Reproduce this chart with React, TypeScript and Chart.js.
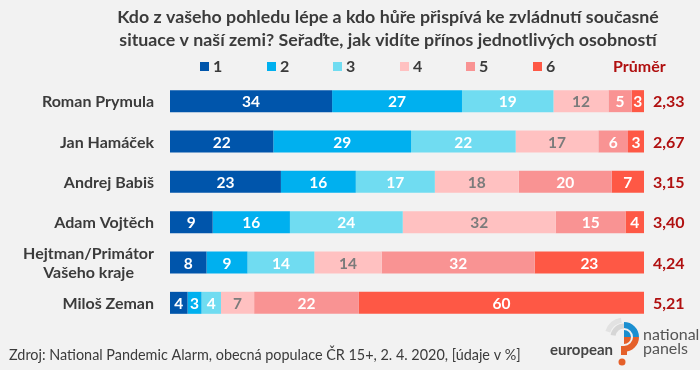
import React, { useEffect, useRef } from "react";
import Chart from "chart.js/auto";

const titleLines = [
  "Kdo z vašeho pohledu lépe a kdo hůře přispívá ke zvládnutí současné",
  "situace v naší zemi? Seřaďte, jak vidíte přínos jednotlivých osobností",
];
const categories: string[][] = [
  ["Roman Prymula"],
  ["Jan Hamáček"],
  ["Andrej Babiš"],
  ["Adam Vojtěch"],
  ["Hejtman/Primátor", "Vašeho kraje"],
  ["Miloš Zeman"],
];
const seriesNames = ["1", "2", "3", "4", "5", "6"];
const s1 = [34.2, 21.8, 23.4, 9.0, 7.7, 3.7];
const s2 = [27.4, 29.05, 15.8, 16.3, 8.65, 2.95];
const s3 = [19.3, 22.08, 16.67, 23.8, 14.1, 4.1];
const s4 = [11.6, 17.44, 17.72, 32.3, 14.2, 7.0];
const s5 = [4.9, 6.26, 19.6, 14.7, 32.3, 22.1];
const s6 = [2.6, 3.38, 6.81, 3.9, 23.05, 60.15];
const averages = [2.33, 2.67, 3.15, 3.4, 4.24, 5.21];
const averageLabel = "Průměr";
const footerText = "Zdroj: National Pandemic Alarm, obecná populace ČR 15+, 2. 4. 2020, [údaje v %]";

const colors = ["#0055ab", "#00b0ef", "#70dcf1", "#ffc1c1", "#f99393", "#fe5845"];
const labelColors = ["#ffffff", "#ffffff", "#ffffff", "#7b7b7b", "#ffffff", "#ffffff"];
const FONT = "Lato, 'Open Sans', sans-serif";
const TEXT = "#3b3b3b";
const RED = "#b01010";

export default function App() {
  const ref = useRef<HTMLCanvasElement | null>(null);
  useEffect(() => {
    document.body.style.margin = "0";
    const canvas = ref.current!;
    const decor = {
      id: "decor",
      beforeDraw(chart: any) {
        const ctx = chart.ctx;
        ctx.save();
        ctx.fillStyle = "#f2f2f2";
        ctx.fillRect(0, 0, chart.width, chart.height);
        ctx.restore();
      },
      afterDatasetsDraw(chart: any) {
        const ctx = chart.ctx;
        ctx.save();
        ctx.font = `bold 15.5px ${FONT}`;
        ctx.textAlign = "center";
        ctx.textBaseline = "middle";
        chart.data.datasets.forEach((ds: any, di: number) => {
          const meta = chart.getDatasetMeta(di);
          meta.data.forEach((el: any, i: number) => {
            const v = ds.data[i];
            const cx = (el.x + el.base) / 2;
            ctx.fillStyle = labelColors[di];
            ctx.fillText(String(Math.round(v)), cx, el.y + 1);
          });
        });
        ctx.restore();
      },
      afterDraw(chart: any) {
        const ctx = chart.ctx;
        const yScale = chart.scales.y;
        const area = chart.chartArea;
        ctx.save();
        // title
        ctx.fillStyle = TEXT;
        ctx.font = `bold 17.8px ${FONT}`;
        ctx.textAlign = "center";
        ctx.textBaseline = "middle";
        titleLines.forEach((t, i) => ctx.fillText(t, 388, 17 + i * 23));
        // legend
        ctx.font = `bold 16px ${FONT}`;
        const legendX = [200, 267, 333, 400, 466, 533];
        ctx.textAlign = "left";
        seriesNames.forEach((n, i) => {
          ctx.fillStyle = colors[i];
          ctx.fillRect(legendX[i], 62, 9, 9);
          ctx.fillStyle = TEXT;
          ctx.fillText(n, legendX[i] + 13, 67);
        });
        ctx.fillStyle = RED;
        ctx.fillText(averageLabel, 613, 67);
        // y labels
        ctx.fillStyle = TEXT;
        ctx.font = `bold 16px ${FONT}`;
        categories.forEach((lines, i) => {
          const y = yScale.getPixelForValue(i);
          const widths = lines.map((l) => ctx.measureText(l).width);
          const maxW = Math.max(...widths);
          const right = area.left - 16;
          ctx.textAlign = "center";
          lines.forEach((l, j) => {
            const ly = y + (j - (lines.length - 1) / 2) * 19 + 1;
            ctx.fillText(l, right - maxW / 2, ly);
          });
        });
        // averages
        ctx.fillStyle = RED;
        ctx.textAlign = "left";
        averages.forEach((a, i) => {
          const y = yScale.getPixelForValue(i);
          ctx.fillText(a.toFixed(2).replace(".", ","), area.right + 9, y + 1);
        });
        // footer
        ctx.fillStyle = TEXT;
        ctx.font = `14.4px ${FONT}`;
        ctx.textAlign = "left";
        ctx.fillText(footerText, 9, 355);
        // logo
        ctx.font = `bold 15px ${FONT}`;
        ctx.fillStyle = "#454545";
        ctx.fillText("european", 550, 350);
        ctx.font = `16px ${FONT}`;
        ctx.fillStyle = "#555555";
        ctx.fillText("national", 643, 335);
        ctx.fillText("panels", 643, 349);
        const cx = 624, cy = 337;
        ctx.lineWidth = 5;
        ctx.strokeStyle = "#e2e2e2";
        ctx.beginPath();
        ctx.arc(cx, cy, 17, Math.PI * 1.1, Math.PI * 1.45);
        ctx.stroke();
        ctx.strokeStyle = "#d6d6d6";
        ctx.beginPath();
        ctx.arc(cx, cy, 11, Math.PI * 1.05, Math.PI * 1.5);
        ctx.stroke();
        ctx.lineWidth = 6;
        ctx.strokeStyle = "#1b8fd0";
        ctx.beginPath();
        ctx.arc(cx, cy, 12, Math.PI * 1.5, Math.PI * 2);
        ctx.stroke();
        ctx.strokeStyle = "#e5602a";
        ctx.beginPath();
        ctx.arc(cx, cy, 12, 0, Math.PI * 0.5);
        ctx.stroke();
        ctx.fillStyle = "#1b8fd0";
        ctx.beginPath();
        ctx.moveTo(cx, cy);
        ctx.arc(cx, cy, 7, Math.PI * 1.5, Math.PI * 2);
        ctx.closePath();
        ctx.fill();
        ctx.fillStyle = "#e5602a";
        ctx.beginPath();
        ctx.moveTo(cx, cy);
        ctx.arc(cx, cy, 7, 0, Math.PI * 0.5);
        ctx.closePath();
        ctx.fill();
        ctx.fillRect(cx - 3, cy + 9, 6, 9);
        ctx.beginPath();
        ctx.arc(cx - 2, cy + 25, 3.5, 0, Math.PI * 2);
        ctx.fill();
        ctx.restore();
      },
    };
    const chart = new Chart(canvas, {
      type: "bar",
      data: {
        labels: categories.map((c) => c.join(" ")),
        datasets: [s1, s2, s3, s4, s5, s6].map((d, i) => ({
          label: seriesNames[i],
          data: d,
          backgroundColor: colors[i],
          borderWidth: 0,
          barPercentage: 0.545,
          categoryPercentage: 1,
        })),
      },
      options: {
        indexAxis: "y",
        animation: false,
        responsive: false,
        devicePixelRatio: 1,
        layout: { padding: { left: 170, right: 56, top: 81, bottom: 47 } },
        plugins: { legend: { display: false }, tooltip: { enabled: false }, title: { display: false } },
        scales: {
          x: { stacked: true, min: 0, max: 100, display: false },
          y: { stacked: true, display: false },
        },
      },
      plugins: [decor],
    } as any);
    return () => chart.destroy();
  }, []);
  return (
    <div style={{ width: 700, height: 370 }}>
      <canvas ref={ref} width={700} height={370} />
    </div>
  );
}
